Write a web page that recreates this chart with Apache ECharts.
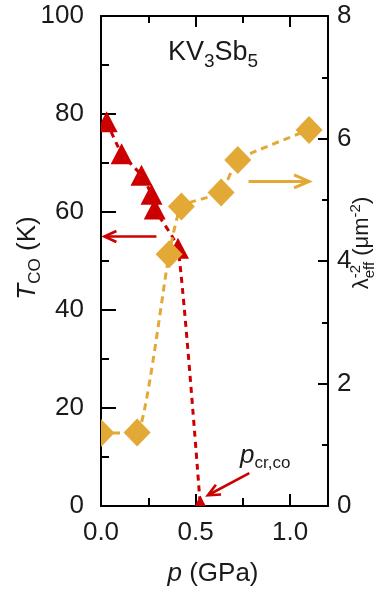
<!DOCTYPE html>
<html>
<head>
<meta charset="utf-8">
<script src="https://cdn.jsdelivr.net/npm/echarts@6/dist/echarts.min.js"></script>
<style>
  html, body { margin: 0; padding: 0; background: #fff; }
  #chart { width: 392px; height: 590px; }
</style>
</head>
<body>
<div id="chart"></div>
<script>
// KV3Sb5: charge-order temperature and superfluid density under pressure

// T_co (K) versus pressure (GPa)
const pressureTco = [0.03, 0.109, 0.214, 0.267, 0.284, 0.407, 0.525];
const tco = [78.4, 71.9, 67.5, 63.6, 60.6, 52.6, 0];

// lambda_eff^-2 (um^-2) versus pressure (GPa)
const pressureLambda = [0.0, 0.191, 0.36, 0.425, 0.635, 0.723, 1.10];
const lambdaInv2 = [1.19, 1.20, 4.11, 4.89, 5.12, 5.65, 6.14];

// tick values and labels
const pTicks = [0, 0.5, 1.0];
const pTickLabels = ['0.0', '0.5', '1.0'];
const tTicks = [0, 20, 40, 60, 80, 100];
const lamTicks = [0, 2, 4, 6, 8];

// annotation arrows: [p from, value from, p to, value to]
const tcoArrow = [0.293, 55, 0.018, 55];
const lambdaArrow = [0.78, 5.3, 1.10, 5.3];
const pcrArrow = [0.784, 6.7, 0.565, 2.2];

const FONT = '"Liberation Sans", Arial, Helvetica, sans-serif';
const INK = '#1a1a1a';
const RED = '#CC0000';
const GOLD = '#E3A937';
const AXIS = { color: '#000', width: 2 };

const chart = echarts.init(document.getElementById('chart'), null, { renderer: 'canvas' });

// text measuring for mixed-size labels (sub/superscripts)
const mctx = document.createElement('canvas').getContext('2d');
function fontOf(pc) {
  return (pc.italic ? 'italic ' : '') + pc.size + 'px ' + FONT;
}
// lay out a run of text pieces along a common baseline (local y = 0)
function textRun(pieces) {
  let x = 0, prevStart = 0;
  const els = [];
  pieces.forEach(pc => {
    const font = fontOf(pc);
    mctx.font = font;
    const w = mctx.measureText(pc.text).width;
    let start = x;
    if (pc.stack) {
      start = prevStart;
      x = Math.max(x, prevStart + w);
    } else {
      x += w;
      prevStart = start;
    }
    els.push({
      type: 'text',
      x: start,
      y: -(pc.rise || 0) - 0.35 * pc.size,
      style: { text: pc.text, font: font, fill: INK, align: 'left', verticalAlign: 'middle' }
    });
  });
  return { els, width: x };
}
function label(pieces, x, y, opts) {
  opts = opts || {};
  const run = textRun(pieces);
  const shift = opts.anchor === 'left' ? 0 : -run.width / 2;
  run.els.forEach(e => { e.x += shift; });
  return { type: 'group', x: x, y: y, rotation: opts.rotation || 0, silent: true, children: run.els };
}

function xAxisDef(position, interval, tickLen, showLine, showLabel) {
  return {
    type: 'value', position: position, min: 0, max: 1.2, interval: interval,
    axisLine: { show: showLine, onZero: false, lineStyle: AXIS },
    axisTick: { show: true, inside: true, length: tickLen, lineStyle: AXIS },
    minorTick: { show: false },
    splitLine: { show: false },
    axisPointer: { show: false },
    axisLabel: showLabel ? {
      show: true, fontSize: 26, fontFamily: FONT, color: INK, margin: 14,
      formatter: v => {
        const i = pTicks.findIndex(t => Math.abs(t - v) < 1e-6);
        return i >= 0 ? pTickLabels[i] : '';
      }
    } : { show: false }
  };
}

// markers are cut at the frame of the plot area
function frameClip(params) {
  const cs = params.coordSys;
  return { type: 'rect', shape: { x: cs.x, y: cs.y, width: cs.width, height: cs.height } };
}
function triangleItem(params, api) {
  const c = api.coord([api.value(0), api.value(1)]);
  const w = 22, h = 21;
  return {
    type: 'polygon',
    shape: { points: [[c[0], c[1] - h / 2], [c[0] + w / 2, c[1] + h / 2], [c[0] - w / 2, c[1] + h / 2]] },
    style: { fill: RED },
    clipPath: frameClip(params)
  };
}
function diamondItem(params, api) {
  const c = api.coord([api.value(0), api.value(1)]);
  const w = 27, h = 28;
  return {
    type: 'polygon',
    shape: { points: [[c[0], c[1] - h / 2], [c[0] + w / 2, c[1]], [c[0], c[1] + h / 2], [c[0] - w / 2, c[1]]] },
    style: { fill: GOLD },
    clipPath: frameClip(params)
  };
}
function arrowItem(color, lw, headLen, headHalf) {
  return (params, api) => {
    const a = api.coord([api.value(0), api.value(1)]);
    const b = api.coord([api.value(2), api.value(3)]);
    const dx = b[0] - a[0], dy = b[1] - a[1];
    const L = Math.hypot(dx, dy);
    const ux = dx / L, uy = dy / L, px = -uy, py = ux;
    return {
      type: 'group',
      children: [
        { type: 'line', shape: { x1: a[0], y1: a[1], x2: b[0] - ux, y2: b[1] - uy },
          style: { stroke: color, lineWidth: lw } },
        { type: 'polyline',
          shape: { points: [
            [b[0] - ux * headLen + px * headHalf, b[1] - uy * headLen + py * headHalf],
            [b[0], b[1]],
            [b[0] - ux * headLen - px * headHalf, b[1] - uy * headLen - py * headHalf]
          ] },
          style: { stroke: color, lineWidth: lw, fill: null, lineJoin: 'miter' } }
      ]
    };
  };
}

const tcoData = pressureTco.map((p, i) => [p, tco[i]]);
const lambdaData = pressureLambda.map((p, i) => [p, lambdaInv2[i]]);

chart.setOption({
  animation: false,
  backgroundColor: '#fff',
  grid: { left: 101, right: 64, top: 16, bottom: 84, containLabel: false, outerBoundsMode: 'none' },
  xAxis: [
    xAxisDef('bottom', 0.5, 12, true, true),
    xAxisDef('bottom', 0.25, 8, false, false),
    xAxisDef('top', 0.5, 11, true, false),
    xAxisDef('top', 0.25, 7, false, false)
  ],
  yAxis: [
    {
      type: 'value', position: 'left', min: 0, max: 100, interval: 20,
      axisLine: { show: true, onZero: false, lineStyle: AXIS },
      axisTick: { show: true, inside: true, length: 15, lineStyle: AXIS },
      minorTick: { show: true, splitNumber: 2, length: 8, lineStyle: AXIS },
      splitLine: { show: false },
      axisLabel: { fontSize: 26, fontFamily: FONT, color: INK, margin: 17,
        formatter: v => (tTicks.indexOf(v) >= 0 ? String(v) : '') }
    },
    {
      type: 'value', position: 'right', min: 0, max: 8, interval: 2,
      axisLine: { show: true, onZero: false, lineStyle: AXIS },
      axisTick: { show: true, inside: true, length: 10, lineStyle: AXIS },
      minorTick: { show: true, splitNumber: 2, length: 6, lineStyle: AXIS },
      splitLine: { show: false },
      axisLabel: { fontSize: 26, fontFamily: FONT, color: INK, margin: 9,
        formatter: v => (lamTicks.indexOf(v) >= 0 ? String(v) : '') }
    }
  ],
  series: [
    {
      name: 'Tco guide', type: 'line', xAxisIndex: 0, yAxisIndex: 0, data: tcoData,
      smooth: 0.15, symbol: 'none', clip: true, silent: true, z: 2,
      lineStyle: { color: RED, width: 3, type: [6, 5] }
    },
    {
      name: 'lambda guide', type: 'line', xAxisIndex: 0, yAxisIndex: 1, data: lambdaData,
      smooth: 0.15, symbol: 'none', clip: true, silent: true, z: 2,
      lineStyle: { color: GOLD, width: 3, type: [7, 5] }
    },
    {
      name: 'Tco', type: 'custom', xAxisIndex: 0, yAxisIndex: 0, data: tcoData,
      encode: { x: 0, y: 1 }, renderItem: triangleItem, clip: true, silent: true, z: 3
    },
    {
      name: 'lambda', type: 'custom', xAxisIndex: 0, yAxisIndex: 1, data: lambdaData,
      encode: { x: 0, y: 1 }, renderItem: diamondItem, clip: true, silent: true, z: 4
    },
    {
      type: 'custom', xAxisIndex: 0, yAxisIndex: 0, data: [tcoArrow, pcrArrow],
      encode: { x: [0, 2], y: [1, 3] }, renderItem: arrowItem(RED, 2.6, 12, 5.5), clip: false, silent: true, z: 5
    },
    {
      type: 'custom', xAxisIndex: 0, yAxisIndex: 1, data: [lambdaArrow],
      encode: { x: [0, 2], y: [1, 3] }, renderItem: arrowItem(GOLD, 3, 15, 6.5), clip: false, silent: true, z: 5
    }
  ],
  graphic: [
    label([
      { text: 'KV', size: 27 }, { text: '3', size: 19, rise: -7 },
      { text: 'Sb', size: 27 }, { text: '5', size: 19, rise: -7 }
    ], 168, 61.5, { anchor: 'left' }),
    label([
      { text: 'T', size: 26, italic: true }, { text: 'CO', size: 17, rise: -4 },
      { text: ' (K)', size: 26 }
    ], 37, 258, { rotation: Math.PI / 2 }),
    label([
      { text: 'λ', size: 22 }, { text: 'eff', size: 15, rise: -5 },
      { text: '-2', size: 15, rise: 9, stack: true },
      { text: ' (μm', size: 22 }, { text: '-2', size: 15, rise: 9 }, { text: ')', size: 22 }
    ], 370, 243, { rotation: Math.PI / 2 }),
    label([
      { text: 'p', size: 26, italic: true }, { text: ' (GPa)', size: 26 }
    ], 213, 583),
    label([
      { text: 'p', size: 26, italic: true }, { text: 'cr,co', size: 17, rise: -4 }
    ], 240, 465, { anchor: 'left' })
  ]
});
</script>
</body>
</html>
